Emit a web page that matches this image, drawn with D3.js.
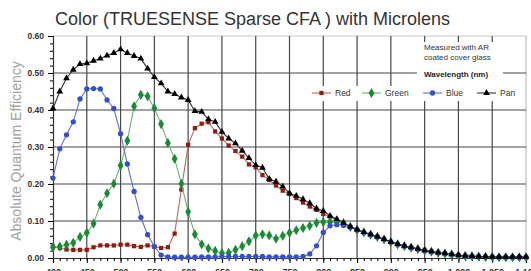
<!DOCTYPE html>
<html>
<head>
<meta charset="utf-8">
<script src="https://cdn.jsdelivr.net/npm/d3@7/dist/d3.min.js"></script>
<style>
  body { margin: 0; background: #fff; }
  svg { display: block; font-family: "Liberation Sans", Arial, sans-serif; }
</style>
</head>
<body>
<div id="chart"></div>
<script>
// wavelength categories (nm)
var wavelengths = [400,410,420,430,440,450,460,470,480,490,500,510,520,530,540,550,560,570,580,590,
  600,610,620,630,640,650,660,670,680,690,700,710,720,730,740,750,760,770,780,790,
  800,810,820,830,840,850,860,870,880,890,900,910,920,930,940,950,960,970,980,990,
  1000,1010,1020,1030,1040,1050,1060,1070,1080,1090,1100];

var redQE = [0.031,0.027,0.023,0.022,0.022,0.022,0.029,0.034,0.034,0.034,0.036,0.036,0.032,0.030,0.034,0.031,0.027,0.029,0.066,0.185,
  0.306,0.351,0.363,0.367,0.342,0.323,0.304,0.289,0.274,0.253,0.245,0.224,0.211,0.196,0.182,0.173,0.162,0.150,0.139,0.130,
  0.119,0.112,0.103,0.094,0.084,0.076,0.069,0.063,0.057,0.050,0.043,0.037,0.032,0.028,0.024,0.020,0.017,0.014,0.012,0.010,
  0.007,0.006,0.005,0.004,0.003,0.003,0.002,0.002,0.002,0.002,0.002];

var greenQE = [0.029,0.031,0.036,0.041,0.057,0.068,0.093,0.144,0.175,0.201,0.250,0.317,0.410,0.441,0.437,0.405,0.362,0.311,0.268,0.201,
  0.125,0.064,0.037,0.026,0.019,0.013,0.014,0.022,0.032,0.045,0.061,0.064,0.061,0.052,0.060,0.068,0.075,0.081,0.087,0.095,
  0.097,0.097,0.097,0.094,0.084,0.076,0.069,0.063,0.057,0.050,0.043,0.037,0.032,0.028,0.024,0.020,0.017,0.014,0.012,0.010,
  0.007,0.006,0.005,0.004,0.003,0.003,0.002,0.002,0.002,0.002,0.002];

var blueQE = [0.216,0.295,0.333,0.368,0.430,0.457,0.458,0.457,0.427,0.404,0.336,0.254,0.180,0.110,0.063,0.031,0.008,0.003,0.002,0.002,
  0.002,0.002,0.003,0.003,0.003,0.004,0.004,0.004,0.004,0.004,0.004,0.004,0.003,0.003,0.003,0.003,0.003,0.004,0.011,0.033,
  0.069,0.087,0.090,0.088,0.083,0.076,0.069,0.063,0.057,0.050,0.043,0.037,0.032,0.028,0.024,0.020,0.017,0.014,0.012,0.010,
  0.007,0.006,0.005,0.004,0.003,0.003,0.002,0.002,0.002,0.002,0.002];

var panQE = [0.404,0.450,0.486,0.509,0.524,0.526,0.533,0.539,0.547,0.554,0.564,0.554,0.546,0.539,0.512,0.489,0.472,0.450,0.443,0.434,
  0.427,0.397,0.395,0.375,0.368,0.341,0.323,0.310,0.290,0.270,0.251,0.244,0.214,0.206,0.193,0.175,0.168,0.159,0.148,0.134,
  0.127,0.114,0.105,0.095,0.085,0.077,0.070,0.064,0.058,0.051,0.044,0.038,0.033,0.029,0.025,0.021,0.018,0.015,0.013,0.010,
  0.008,0.006,0.005,0.004,0.004,0.003,0.003,0.003,0.003,0.003,0.003];

var xTicks = [400,450,500,550,600,650,700,750,800,850,900,950,1000,1050,1100];
var yTicks = [0, 0.1, 0.2, 0.3, 0.4, 0.5, 0.6];

var series = [
  {name: "Red",   values: redQE,   line: "#b96a5e", mark: "#8e1c12", shape: d3.symbolSquare,   size: 18},
  {name: "Green", values: greenQE, line: "#6cb56c", mark: "#1b8a36", shape: d3.symbolDiamond,  size: 30},
  {name: "Blue",  values: blueQE,  line: "#5a6fd2", mark: "#3550c4", shape: d3.symbolCircle,   size: 22},
  {name: "Pan",   values: panQE,   line: "#333333", mark: "#000000", shape: d3.symbolTriangle, size: 20}
];

var width = 531, height = 271;

var x = d3.scaleLinear().domain([400, 1100]).range([53, 526]);
var y = d3.scaleLinear().domain([0, 0.6]).range([258, 36]);

var svg = d3.select("#chart").append("svg")
  .attr("width", width)
  .attr("height", height);

// title
svg.append("text")
  .attr("x", 55).attr("y", 25)
  .attr("font-size", 18)
  .attr("fill", "#333")
  .text("Color (TRUESENSE Sparse CFA ) with Microlens");

// y axis label
svg.append("text")
  .attr("transform", "translate(21,151) rotate(-90)")
  .attr("text-anchor", "middle")
  .attr("font-size", 14)
  .attr("fill", "#a0a0a0")
  .text("Absolute Quantum Efficiency");

// top and right frame, light gray
svg.append("line")
  .attr("x1", x(400)).attr("x2", x(1100)).attr("y1", y(0.6)).attr("y2", y(0.6))
  .attr("stroke", "#c8c8c8").attr("stroke-width", 1.2);
svg.append("line")
  .attr("x1", x(1100)).attr("x2", x(1100)).attr("y1", y(0.6)).attr("y2", y(0))
  .attr("stroke", "#c8c8c8").attr("stroke-width", 1.5);

// gridlines
var grid = svg.append("g").attr("stroke", "#474747").attr("stroke-width", 1.2);
grid.selectAll(".gx")
  .data(xTicks.filter(function(d) { return d > 400 && d < 1100; }))
  .enter().append("line")
    .attr("x1", function(d) { return x(d); }).attr("x2", function(d) { return x(d); })
    .attr("y1", y(0.6)).attr("y2", y(0));
grid.selectAll(".gy")
  .data(yTicks.filter(function(d) { return d > 0 && d < 0.6; }))
  .enter().append("line")
    .attr("x1", x(400)).attr("x2", x(1100))
    .attr("y1", function(d) { return y(d); }).attr("y2", function(d) { return y(d); });

// axes
var xAxis = svg.append("g")
  .attr("transform", "translate(0," + y(0) + ")")
  .call(d3.axisBottom(x).tickValues(xTicks).tickSize(5).tickPadding(6));
xAxis.selectAll("text").attr("font-size", 9).attr("font-weight", "bold").attr("fill", "#333");
xAxis.select(".domain").attr("stroke", "#333").attr("stroke-width", 1.2);
svg.append("g")
  .attr("transform", "translate(0," + y(0) + ")")
  .call(d3.axisBottom(x).ticks(70).tickSize(3).tickFormat(""))
  .select(".domain").remove();

var yAxis = svg.append("g")
  .attr("transform", "translate(" + x(400) + ",0)")
  .call(d3.axisLeft(y).tickValues(yTicks).tickFormat(d3.format(".2f")).tickSize(5).tickPadding(4));
yAxis.selectAll("text").attr("font-size", 8.5).attr("font-weight", "bold").attr("fill", "#333");
yAxis.select(".domain").attr("stroke", "#333").attr("stroke-width", 1.2);
svg.append("g")
  .attr("transform", "translate(" + x(400) + ",0)")
  .call(d3.axisLeft(y).ticks(30).tickSize(3).tickFormat(""))
  .select(".domain").remove();

// legend background boxes
svg.append("rect").attr("x", 417).attr("y", 42).attr("width", 86).attr("height", 44).attr("fill", "#fff");
svg.append("rect").attr("x", 306).attr("y", 86).attr("width", 216).attr("height", 15).attr("fill", "#fff");

svg.append("text").attr("x", 424).attr("y", 50).attr("font-size", 8).attr("fill", "#333").text("Measured with AR");
svg.append("text").attr("x", 424).attr("y", 60).attr("font-size", 8).attr("fill", "#333").text("coated cover glass");
svg.append("text").attr("x", 424).attr("y", 77).attr("font-size", 8).attr("font-weight", "bold").attr("fill", "#222").text("Wavelength (nm)");

// series
var line = d3.line()
  .x(function(d, i) { return x(wavelengths[i]); })
  .y(function(d) { return y(d); });

series.forEach(function(s) {
  var g = svg.append("g");
  g.append("path")
    .attr("d", line(s.values))
    .attr("fill", "none")
    .attr("stroke", s.line)
    .attr("stroke-width", 1.1);
  g.selectAll("path.m")
    .data(s.values)
    .enter().append("path")
      .attr("class", "m")
      .attr("transform", function(d, i) { return "translate(" + x(wavelengths[i]) + "," + y(d) + ")"; })
      .attr("d", d3.symbol().type(s.shape).size(s.size))
      .attr("fill", s.mark);
});

// legend entries
var legendX = [312, 362, 423, 477];
var leg = svg.selectAll(".leg")
  .data(series)
  .enter().append("g")
    .attr("transform", function(d, i) { return "translate(" + legendX[i] + ",93)"; });
leg.append("line").attr("x1", 0).attr("x2", 19).attr("stroke", function(d) { return d.line; }).attr("stroke-width", 1.1);
leg.append("path")
  .attr("transform", "translate(9.5,0)")
  .attr("d", function(d) { return d3.symbol().type(d.shape).size(d.size)(); })
  .attr("fill", function(d) { return d.mark; });
leg.append("text")
  .attr("x", 23).attr("y", 3)
  .attr("font-size", 8.5)
  .attr("fill", "#333")
  .text(function(d) { return d.name; });
</script>
</body>
</html>
